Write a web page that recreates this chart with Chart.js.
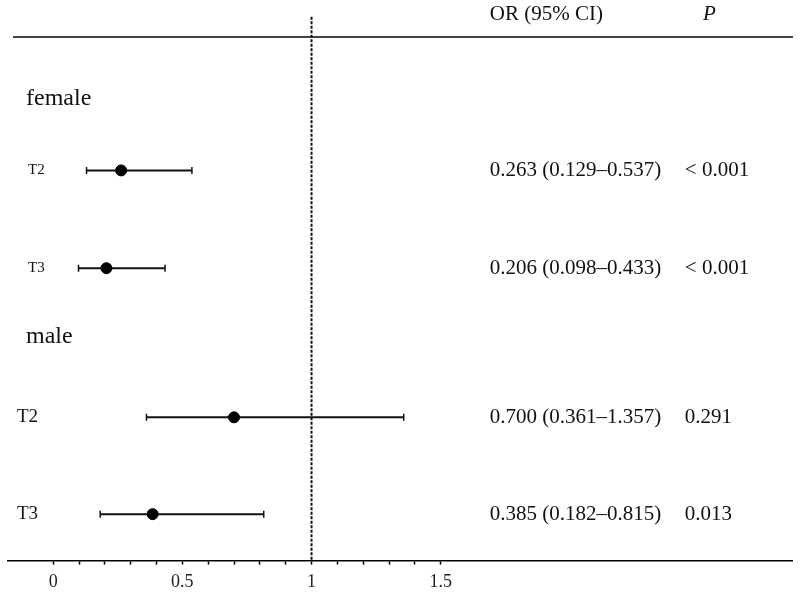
<!DOCTYPE html>
<html>
<head>
<meta charset="utf-8">
<script src="https://cdn.jsdelivr.net/npm/chart.js@4/dist/chart.umd.min.js"></script>
<style>
  body { margin: 0; background: #fff; }
</style>
</head>
<body>
<canvas id="forest" width="800" height="597"></canvas>
<script>
// data
const groups = ['female', 'male']
const rowLabels = ['T2', 'T3', 'T2', 'T3']
const rowGroup = ['female', 'female', 'male', 'male']
const orValues = [0.263, 0.206, 0.700, 0.385]
const ciLow = [0.129, 0.098, 0.361, 0.182]
const ciHigh = [0.537, 0.433, 1.357, 0.815]
const pValues = ['< 0.001', '< 0.001', '0.291', '0.013']
const xTickLabels = [0, 0.5, 1, 1.5]

// layout: vertical slot of each group heading and each row (y scale units)
const groupSlot = { female: 1.27, male: 6.13 }
const rowSlot = [2.73, 4.73, 7.78, 9.76]
const serif = '"Liberation Serif", "Times New Roman", serif'

const forestPlugin = {
    id: 'forest',
    beforeDatasetsDraw(chart) {
        const ctx = chart.ctx
        const x = chart.scales.x
        const y = chart.scales.y
        const area = chart.chartArea
        ctx.save()
        // top rule
        ctx.strokeStyle = '#444'
        ctx.lineWidth = 2
        ctx.beginPath()
        ctx.moveTo(area.left + 5, y.getPixelForValue(0))
        ctx.lineTo(area.right + 1, y.getPixelForValue(0))
        ctx.stroke()
        // line of no effect
        ctx.strokeStyle = '#111'
        ctx.lineWidth = 2
        ctx.setLineDash([3, 1.5])
        ctx.beginPath()
        ctx.moveTo(x.getPixelForValue(1), y.getPixelForValue(-0.41))
        ctx.lineTo(x.getPixelForValue(1), area.bottom)
        ctx.stroke()
        ctx.setLineDash([])
        // confidence intervals
        ctx.strokeStyle = '#111'
        for (let i = 0; i < orValues.length; i++) {
            let py = y.getPixelForValue(rowSlot[i])
            let x0 = x.getPixelForValue(ciLow[i])
            let x1 = x.getPixelForValue(ciHigh[i])
            ctx.lineWidth = 2
            ctx.beginPath()
            ctx.moveTo(x0, py)
            ctx.lineTo(x1, py)
            ctx.stroke()
            ctx.lineWidth = 1.5
            ctx.beginPath()
            ctx.moveTo(x0, py - 3.5)
            ctx.lineTo(x0, py + 3.5)
            ctx.moveTo(x1, py - 3.5)
            ctx.lineTo(x1, py + 3.5)
            ctx.stroke()
        }
        ctx.restore()
    },
    afterDraw(chart) {
        const ctx = chart.ctx
        const x = chart.scales.x
        const y = chart.scales.y
        ctx.save()
        ctx.fillStyle = '#111'
        ctx.textBaseline = 'middle'
        ctx.textAlign = 'left'
        // headers
        let headY = y.getPixelForValue(-0.45)
        ctx.font = '21px ' + serif
        ctx.fillText('OR (95% CI)', x.getPixelForValue(1.69), headY)
        ctx.font = 'italic 21px ' + serif
        ctx.fillText('P', x.getPixelForValue(2.515), headY)
        // group headings
        ctx.font = '24px ' + serif
        groups.forEach(g => {
            ctx.fillText(g, 26, y.getPixelForValue(groupSlot[g]))
        })
        // rows
        for (let i = 0; i < orValues.length; i++) {
            let py = y.getPixelForValue(rowSlot[i])
            if (rowGroup[i] === 'female') {
                ctx.font = '15px ' + serif
                ctx.fillText(rowLabels[i], 28, py)
            } else {
                ctx.font = '19px ' + serif
                ctx.fillText(rowLabels[i], 17, py)
            }
            ctx.font = '21px ' + serif
            let orText = `${orValues[i].toFixed(3)} (${ciLow[i].toFixed(3)}\u2013${ciHigh[i].toFixed(3)})`
            ctx.fillText(orText, x.getPixelForValue(1.69), py)
            ctx.fillText(pValues[i], x.getPixelForValue(2.445), py)
        }
        ctx.restore()
    }
}

const canvas = document.getElementById('forest')

new Chart(canvas, {
    type: 'scatter',
    data: {
        datasets: [{
            data: orValues.map((v, i) => ({ x: v, y: rowSlot[i] })),
            backgroundColor: '#000',
            borderColor: '#000',
            pointRadius: 5.5,
            pointHoverRadius: 5.5
        }]
    },
    options: {
        responsive: false,
        animation: false,
        events: [],
        layout: { padding: { left: 8, right: 8, top: 10, bottom: -2 } },
        plugins: {
            legend: { display: false },
            tooltip: { enabled: false }
        },
        scales: {
            x: {
                type: 'linear',
                min: -0.175,
                max: 2.86,
                afterBuildTicks: (scale) => {
                    let t = []
                    for (let i = 0; i <= 15; i++) t.push({ value: i / 10 })
                    scale.ticks = t
                },
                ticks: {
                    autoSkip: false,
                    maxRotation: 0,
                    padding: 10,
                    color: '#222',
                    font: { family: serif, size: 18, lineHeight: 0.8 },
                    callback: (v) => xTickLabels.includes(Math.round(v * 10) / 10) ? String(Math.round(v * 10) / 10) : ''
                },
                grid: {
                    drawOnChartArea: false,
                    drawTicks: true,
                    tickLength: 4,
                    tickColor: '#000',
                    tickWidth: 1.5
                },
                border: { display: true, color: '#000', width: 1.5 }
            },
            y: {
                type: 'linear',
                display: false,
                reverse: true,
                min: -0.55,
                max: 10.71
            }
        }
    },
    plugins: [forestPlugin]
})
</script>
</body>
</html>
